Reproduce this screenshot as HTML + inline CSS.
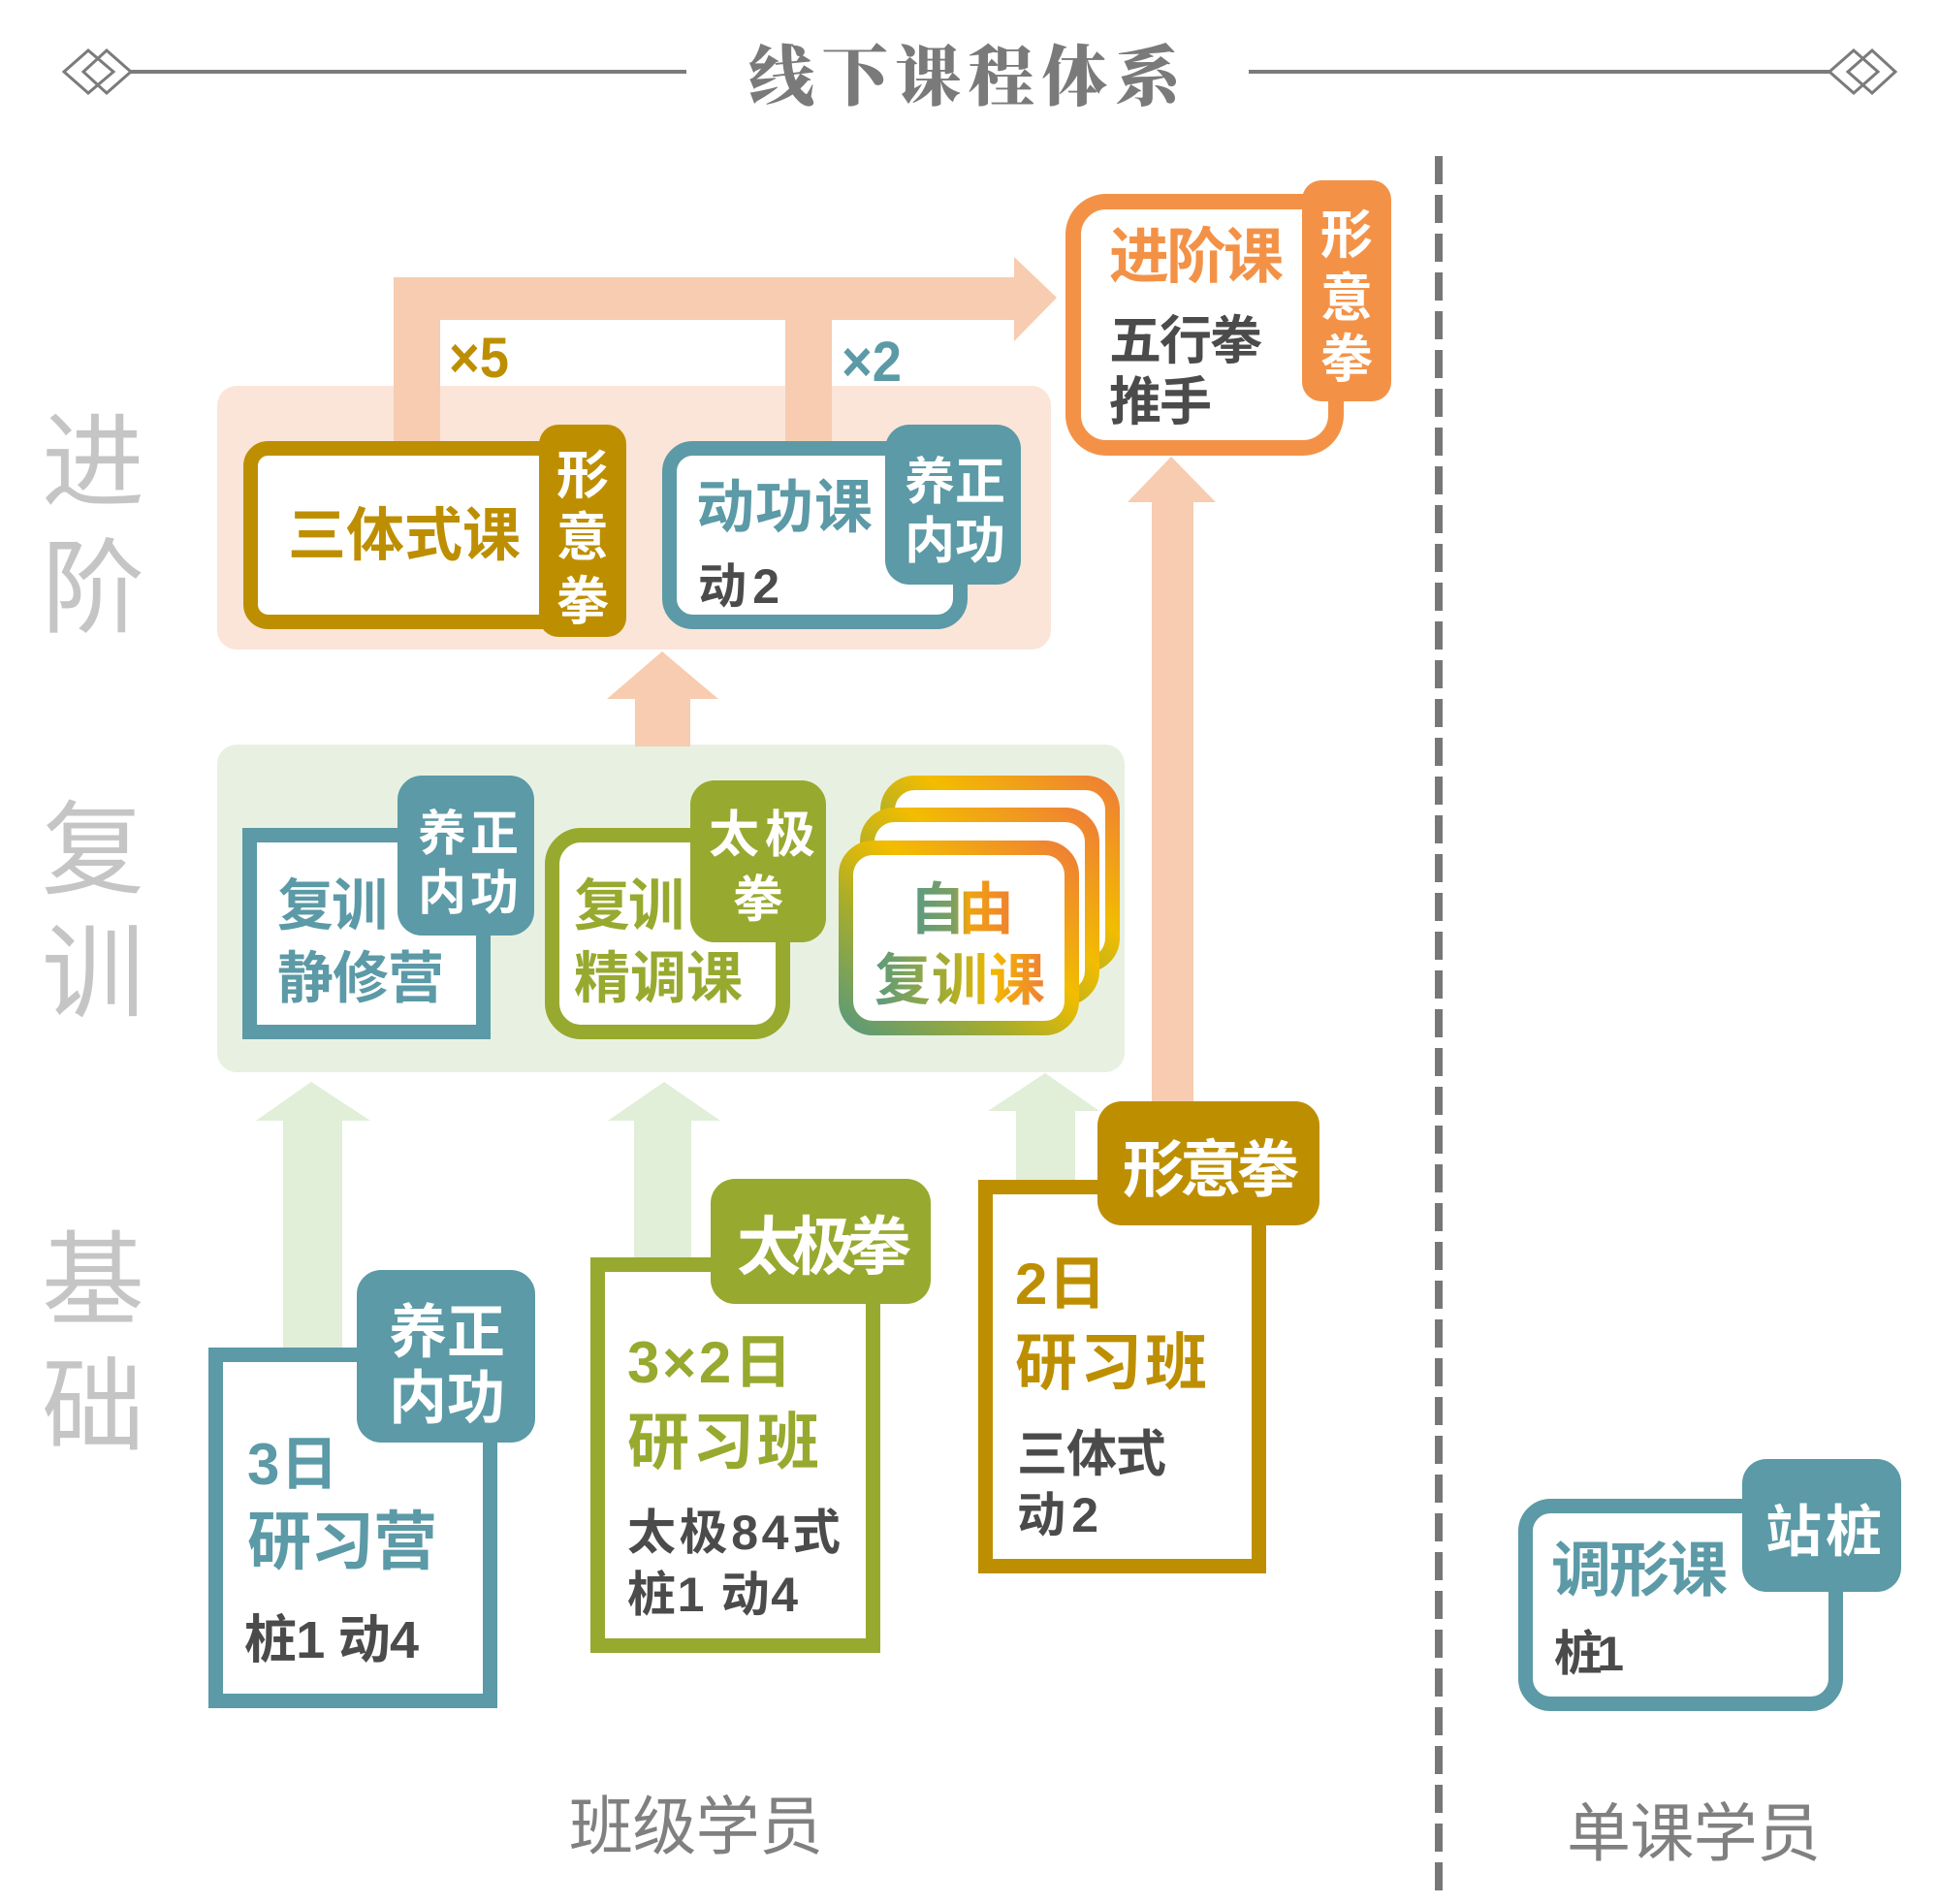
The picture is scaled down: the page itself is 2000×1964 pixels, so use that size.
<!DOCTYPE html>
<html><head><meta charset="utf-8">
<style>
html,body{margin:0;padding:0;background:#fff;}
svg{display:block;}
text{font-family:"Liberation Sans","Noto Sans CJK SC",sans-serif;font-weight:700;}
.lbl{font-weight:400;fill:#c5c5c5;}
.w{fill:#fff;}
.dk{fill:#4b4b4b;}
</style></head>
<body>
<svg width="2000" height="1964" viewBox="0 0 2000 1964" xmlns="http://www.w3.org/2000/svg">
<defs>
<linearGradient id="cg" x1="0" y1="1" x2="1" y2="0">
<stop offset="0" stop-color="#5c9a78"/>
<stop offset="0.35" stop-color="#a8ad2a"/>
<stop offset="0.6" stop-color="#f2bd00"/>
<stop offset="1" stop-color="#ef7f35"/>
</linearGradient>
<linearGradient id="tg" gradientUnits="userSpaceOnUse" x1="900" y1="0" x2="1078" y2="0">
<stop offset="0" stop-color="#5a9a80"/>
<stop offset="0.45" stop-color="#a9ad2c"/>
<stop offset="0.7" stop-color="#f2b800"/>
<stop offset="1" stop-color="#ef7f35"/>
</linearGradient>
<linearGradient id="tg2" gradientUnits="userSpaceOnUse" x1="940" y1="0" x2="1046" y2="0">
<stop offset="0" stop-color="#5a9a80"/>
<stop offset="0.42" stop-color="#7da060"/>
<stop offset="0.55" stop-color="#f0a410"/>
<stop offset="1" stop-color="#ef8030"/>
</linearGradient>
</defs>

<!-- title ornaments -->
<g stroke="#7b7b7b" fill="none">
<line x1="135" y1="74" x2="708" y2="74" stroke-width="4"/>
<polygon points="66,74 91,52 117,74 91,96" stroke-width="3"/>
<polygon points="86,74 110,52 135,74 110,96" stroke-width="3"/>
<line x1="1288" y1="74" x2="1887" y2="74" stroke-width="4"/>
<polygon points="1887,74 1912,52 1937,74 1912,96" stroke-width="3"/>
<polygon points="1906,74 1931,52 1955,74 1931,96" stroke-width="3"/>
</g>
<text x="772" y="103" font-size="68" textLength="446" lengthAdjust="spacing" style="font-family:'Liberation Serif','Noto Serif CJK SC',serif;font-weight:900;fill:#7a7a7a">线下课程体系</text>

<!-- dashed divider -->
<line x1="1484" y1="161" x2="1484" y2="1950" stroke="#777" stroke-width="8" stroke-dasharray="29 11"/>

<!-- left labels -->
<text class="lbl" x="96" y="514" font-size="106" text-anchor="middle">进</text>
<text class="lbl" x="96" y="644" font-size="106" text-anchor="middle">阶</text>
<text class="lbl" x="96" y="914" font-size="106" text-anchor="middle">复</text>
<text class="lbl" x="96" y="1041" font-size="106" text-anchor="middle">训</text>
<text class="lbl" x="96" y="1358" font-size="106" text-anchor="middle">基</text>
<text class="lbl" x="96" y="1488" font-size="106" text-anchor="middle">础</text>

<!-- bottom labels -->
<text x="587" y="1907" font-size="66" textLength="262" lengthAdjust="spacing" style="font-weight:400;fill:#808080">班级学员</text>
<text x="1616" y="1914" font-size="66" textLength="262" lengthAdjust="spacing" style="font-weight:400;fill:#808080">单课学员</text>

<!-- section backgrounds -->
<rect x="224" y="398" width="860" height="272" rx="20" fill="#fbe5d8"/>
<rect x="224" y="768" width="936" height="338" rx="20" fill="#e8f1e1"/>

<!-- peach arrows -->
<g fill="#f7ccb0">
<rect x="406" y="286" width="642" height="44"/>
<rect x="406" y="286" width="48" height="170"/>
<rect x="810" y="300" width="48" height="156"/>
<polygon points="1046,265 1090,307 1046,352"/>
<rect x="1188" y="515" width="43" height="623"/>
<polygon points="1163,518 1208,471 1254,518"/>
<rect x="655" y="718" width="57" height="52"/>
<polygon points="626,721 683,672 741,721"/>
</g>

<!-- green arrows -->
<g fill="#e1eed8">
<rect x="292" y="1153" width="61" height="240"/>
<polygon points="264,1156 321,1116 382,1156"/>
<rect x="654" y="1153" width="59" height="146"/>
<polygon points="627,1156 685,1116 743,1156"/>
<rect x="1048" y="1143" width="61" height="76"/>
<polygon points="1019,1146 1078,1107 1134,1146"/>
</g>

<!-- 进阶 boxes -->
<rect x="258.5" y="462.5" width="350" height="179" rx="18" fill="#fff" stroke="#bd8f00" stroke-width="15"/>
<rect x="556" y="438" width="90" height="219" rx="20" fill="#bd8f00"/>
<rect x="690.5" y="462.5" width="300" height="179" rx="24" fill="#fff" stroke="#5b9aa6" stroke-width="15"/>
<rect x="913" y="438" width="140" height="165" rx="25" fill="#5b9aa6"/>
<rect x="1107" y="208" width="271" height="254" rx="34" fill="#fff" stroke="#f39247" stroke-width="16"/>
<rect x="1343" y="186" width="92" height="228" rx="20" fill="#f39247"/>

<!-- 复训 boxes -->
<rect x="257.5" y="861.5" width="241" height="203" fill="#fff" stroke="#5b9aa6" stroke-width="15"/>
<rect x="410" y="800" width="141" height="165" rx="25" fill="#5b9aa6"/>
<rect x="569.5" y="861.5" width="238" height="203" rx="30" fill="#fff" stroke="#98a92f" stroke-width="15"/>
<rect x="712" y="805" width="140" height="167" rx="25" fill="#98a92f"/>
<rect x="915.5" y="807.5" width="232" height="188" rx="28" fill="#fff" stroke="url(#cg)" stroke-width="15"/>
<rect x="894.5" y="840.5" width="232" height="189" rx="28" fill="#fff" stroke="url(#cg)" stroke-width="15"/>
<rect x="872.5" y="874.5" width="233" height="186" rx="28" fill="#fff" stroke="url(#cg)" stroke-width="15"/>

<!-- 基础 boxes -->
<rect x="222.5" y="1397.5" width="283" height="357" fill="#fff" stroke="#5b9aa6" stroke-width="15"/>
<rect x="368" y="1310" width="184" height="178" rx="25" fill="#5b9aa6"/>
<rect x="616.5" y="1304.5" width="284" height="393" fill="#fff" stroke="#98a92f" stroke-width="15"/>
<rect x="733" y="1216" width="227" height="129" rx="25" fill="#98a92f"/>
<rect x="1016.5" y="1224.5" width="282" height="391" fill="#fff" stroke="#bd8f00" stroke-width="15"/>
<rect x="1132" y="1136" width="229" height="128" rx="25" fill="#bd8f00"/>
<rect x="1573.5" y="1553.5" width="320" height="204" rx="26" fill="#fff" stroke="#5b9aa6" stroke-width="15"/>
<rect x="1797" y="1505" width="164" height="137" rx="25" fill="#5b9aa6"/>

<!-- 进阶 texts -->
<text x="463" y="389" font-size="58" textLength="62" lengthAdjust="spacingAndGlyphs" fill="#bd8f00">×5</text>
<text x="868" y="393" font-size="58" textLength="62" lengthAdjust="spacingAndGlyphs" fill="#5b9aa6">×2</text>
<text x="297" y="573" font-size="60" textLength="240" lengthAdjust="spacing" fill="#bd8f00">三体式课</text>
<text class="w" x="601" y="509" font-size="54" text-anchor="middle">形</text>
<text class="w" x="601" y="573" font-size="54" text-anchor="middle">意</text>
<text class="w" x="601" y="639" font-size="54" text-anchor="middle">拳</text>
<text x="718" y="544" font-size="60" textLength="182" lengthAdjust="spacing" fill="#5b9aa6">动功课</text>
<text class="dk" x="720" y="622" font-size="50" textLength="84" lengthAdjust="spacing">动2</text>
<text class="w" x="933" y="515" font-size="52" textLength="104" lengthAdjust="spacing">养正</text>
<text class="w" x="933" y="576" font-size="52" textLength="104" lengthAdjust="spacing">内功</text>
<text x="1144" y="286" font-size="62" textLength="180" lengthAdjust="spacing" fill="#f39247">进阶课</text>
<text class="dk" x="1144" y="370" font-size="54" textLength="158" lengthAdjust="spacing">五行拳</text>
<text class="dk" x="1144" y="433" font-size="54" textLength="106" lengthAdjust="spacing">推手</text>
<text class="w" x="1389" y="261" font-size="54" text-anchor="middle">形</text>
<text class="w" x="1389" y="326" font-size="54" text-anchor="middle">意</text>
<text class="w" x="1389" y="389" font-size="54" text-anchor="middle">拳</text>

<!-- 复训 texts -->
<text x="286" y="954" font-size="58" textLength="114" lengthAdjust="spacing" fill="#5b9aa6">复训</text>
<text x="286" y="1029" font-size="58" textLength="172" lengthAdjust="spacing" fill="#5b9aa6">静修营</text>
<text class="w" x="431" y="877" font-size="50" textLength="104" lengthAdjust="spacing">养正</text>
<text class="w" x="431" y="938" font-size="50" textLength="104" lengthAdjust="spacing">内功</text>
<text x="592" y="954" font-size="58" textLength="114" lengthAdjust="spacing" fill="#98a92f">复训</text>
<text x="592" y="1029" font-size="58" textLength="174" lengthAdjust="spacing" fill="#98a92f">精调课</text>
<text class="w" x="731" y="879" font-size="52" textLength="110" lengthAdjust="spacing">太极</text>
<text class="w" x="782" y="946" font-size="52" text-anchor="middle">拳</text>
<text x="938" y="958" font-size="58" textLength="108" lengthAdjust="spacing" fill="url(#tg2)">自由</text>
<text x="902" y="1031" font-size="58" textLength="176" lengthAdjust="spacing" fill="url(#tg)">复训课</text>

<!-- 基础 texts -->
<text class="w" x="401" y="1395" font-size="60" textLength="120" lengthAdjust="spacing">养正</text>
<text class="w" x="401" y="1463" font-size="60" textLength="120" lengthAdjust="spacing">内功</text>
<text x="255" y="1531" font-size="60" textLength="94" lengthAdjust="spacing" fill="#5b9aa6">3日</text>
<text x="255" y="1613" font-size="66" textLength="196" lengthAdjust="spacing" fill="#5b9aa6">研习营</text>
<text class="dk" x="252" y="1710" font-size="54" textLength="180" lengthAdjust="spacing">桩1 动4</text>

<text class="w" x="760" y="1309" font-size="66" textLength="180" lengthAdjust="spacing">太极拳</text>
<text x="647" y="1426" font-size="60" textLength="170" lengthAdjust="spacing" fill="#98a92f">3×2日</text>
<text x="647" y="1510" font-size="64" textLength="198" lengthAdjust="spacing" fill="#98a92f">研习班</text>
<text class="dk" x="647" y="1598" font-size="50" textLength="220" lengthAdjust="spacing">太极84式</text>
<text class="dk" x="647" y="1662" font-size="50" textLength="176" lengthAdjust="spacing">桩1 动4</text>

<text class="w" x="1158" y="1229" font-size="64" textLength="182" lengthAdjust="spacing">形意拳</text>
<text x="1047" y="1345" font-size="60" textLength="94" lengthAdjust="spacing" fill="#bd8f00">2日</text>
<text x="1047" y="1428" font-size="64" textLength="198" lengthAdjust="spacing" fill="#bd8f00">研习班</text>
<text class="dk" x="1049" y="1518" font-size="52" textLength="154" lengthAdjust="spacing">三体式</text>
<text class="dk" x="1049" y="1580" font-size="50" textLength="84" lengthAdjust="spacing">动2</text>

<text class="w" x="1821" y="1600" font-size="58" textLength="120" lengthAdjust="spacing">站桩</text>
<text x="1600" y="1641" font-size="62" textLength="182" lengthAdjust="spacing" fill="#5b9aa6">调形课</text>
<text class="dk" x="1603" y="1723" font-size="50" textLength="72" lengthAdjust="spacing">桩1</text>
</svg>
</body></html>
